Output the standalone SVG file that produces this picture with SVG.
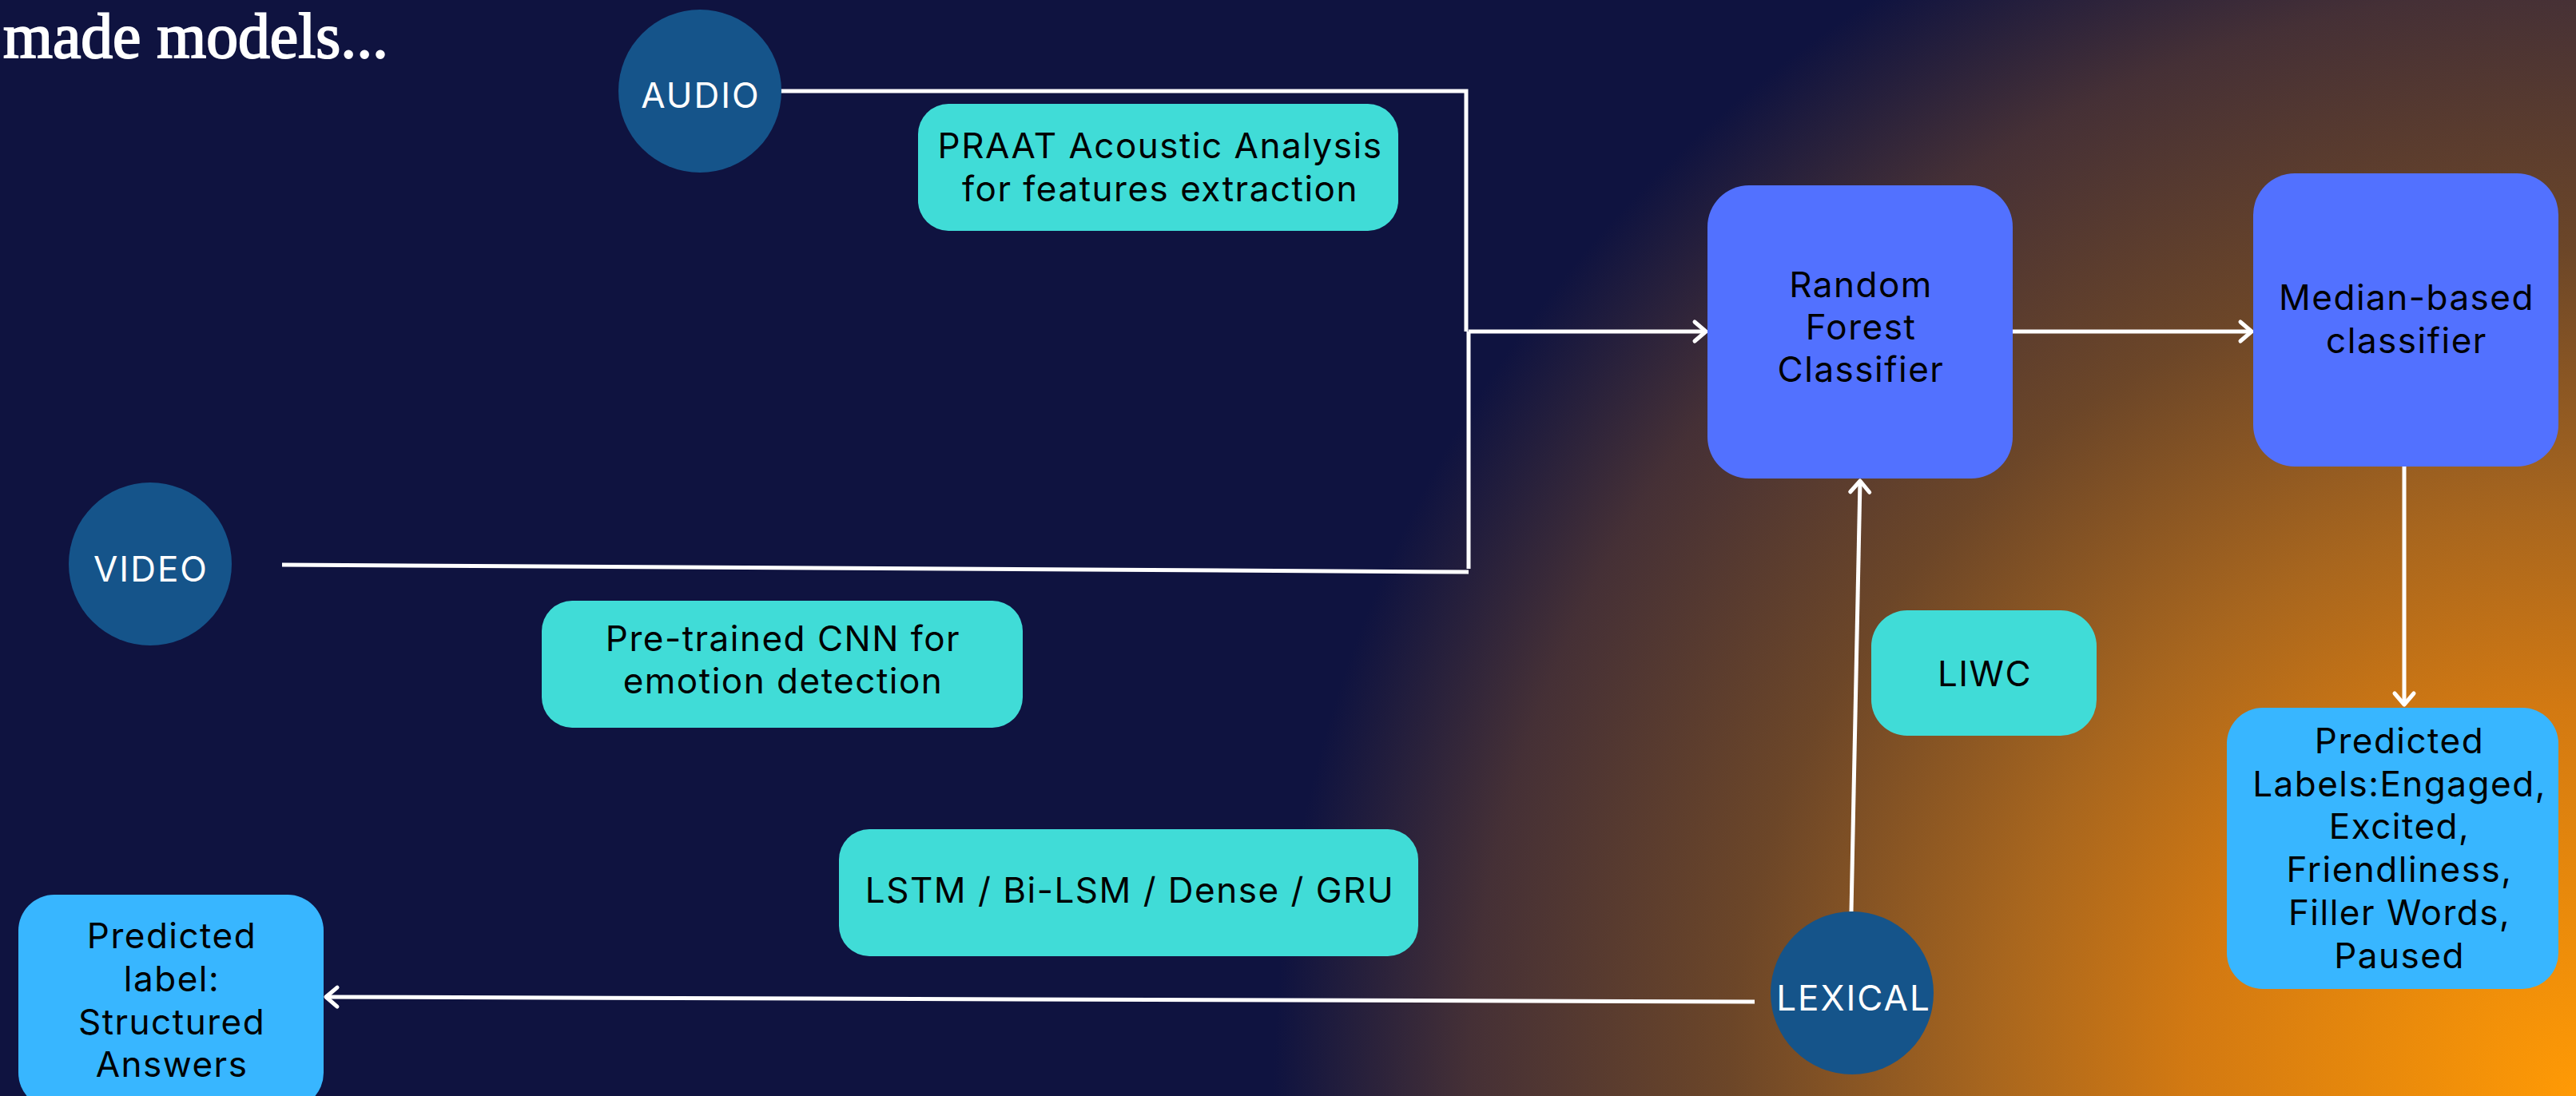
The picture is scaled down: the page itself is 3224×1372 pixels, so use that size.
<svg xmlns="http://www.w3.org/2000/svg" width="3224" height="1372" viewBox="0 0 3224 1372">
  <defs>
    <radialGradient id="bgGlow" gradientUnits="userSpaceOnUse" cx="3224" cy="1372" r="1630">
      <stop offset="0" stop-color="#FF9A05"/>
      <stop offset="0.3" stop-color="#D27912"/>
      <stop offset="0.45" stop-color="#A8661E"/>
      <stop offset="0.65" stop-color="#6C4628"/>
      <stop offset="0.85" stop-color="#453036"/>
      <stop offset="1" stop-color="#0F1340"/>
    </radialGradient>
    <marker id="arrow" markerUnits="userSpaceOnUse" markerWidth="40" markerHeight="40" viewBox="-20 -20 40 40" refX="0" refY="0" orient="auto">
      <path d="M -14 -12 L 0 0 L -14 12" fill="none" stroke="#FFFFFF" stroke-width="5" stroke-linecap="round" stroke-linejoin="round"/>
    </marker>
  </defs>
  <style>
    .circle { fill: #15548A; }
    .circle-text { font-family: Inter, "Liberation Sans", sans-serif; font-size: 44px; fill: #FFFFFF; text-anchor: middle; letter-spacing: 2px; }
    .step { fill: #40DCD7; }
    .model { fill: #5271FF; }
    .result { fill: #38B6FF; }
    .label { font-family: Inter, "Liberation Sans", sans-serif; font-size: 44px; fill: #000000; text-anchor: middle; letter-spacing: 1.5px; }
    .wire { fill: none; stroke: #FFFFFF; stroke-width: 5; }
  </style>

  <rect x="0" y="0" width="3224" height="1372" fill="#0F1340"/>
  <rect x="0" y="0" width="3224" height="1372" fill="url(#bgGlow)"/>

  <text x="4" y="72" textLength="482" lengthAdjust="spacingAndGlyphs" font-family="Liberation Serif, serif" font-size="80" fill="#FFFFFF" stroke="#FFFFFF" stroke-width="2">made models...</text>

  <g id="connectors">
    <path class="wire" d="M 977 114 L 1835 114 L 1835 415"/>
    <path class="wire" d="M 353 707 L 1838 716"/>
    <path class="wire" d="M 1838 415 L 1838 712"/>
    <path class="wire" d="M 1838 415 L 2135 415" marker-end="url(#arrow)"/>
    <path class="wire" d="M 2519 415 L 2818 415" marker-end="url(#arrow)"/>
    <path class="wire" d="M 3009 584 L 3009 882" stroke-width="4" marker-end="url(#arrow)"/>
    <path class="wire" d="M 2317 1141 L 2328 602" stroke-width="4" marker-end="url(#arrow)"/>
    <path class="wire" d="M 2196 1254 L 408 1248" marker-end="url(#arrow)"/>
  </g>

  <g id="audio">
    <circle class="circle" cx="876" cy="114" r="102"/>
    <text class="circle-text" x="877" y="135">AUDIO</text>
  </g>

  <g id="video">
    <circle class="circle" cx="188" cy="706" r="102"/>
    <text class="circle-text" x="189" y="728">VIDEO</text>
  </g>

  <g id="lexical">
    <circle class="circle" cx="2318" cy="1243" r="102"/>
    <text class="circle-text" x="2320" y="1265">LEXICAL</text>
  </g>

  <g id="praat">
    <rect class="step" x="1149" y="130" width="601" height="159" rx="38" ry="38"/>
    <text class="label" x="1452" y="198">PRAAT Acoustic Analysis</text>
    <text class="label" x="1452" y="252">for features extraction</text>
  </g>

  <g id="cnn">
    <rect class="step" x="678" y="752" width="602" height="159" rx="38" ry="38"/>
    <text class="label" x="980" y="815">Pre-trained CNN for</text>
    <text class="label" x="980" y="868">emotion detection</text>
  </g>

  <g id="lstm">
    <rect class="step" x="1050" y="1038" width="725" height="159" rx="38" ry="38"/>
    <text class="label" x="1414" y="1130">LSTM / Bi-LSM / Dense / GRU</text>
  </g>

  <g id="liwc">
    <rect class="step" x="2342" y="764" width="282" height="157" rx="45" ry="45"/>
    <text class="label" x="2484" y="859">LIWC</text>
  </g>

  <g id="random-forest">
    <rect class="model" x="2137" y="232" width="382" height="367" rx="52" ry="52"/>
    <text class="label" x="2329" y="372">Random</text>
    <text class="label" x="2329" y="425">Forest</text>
    <text class="label" x="2329" y="478">Classifier</text>
  </g>

  <g id="median">
    <rect class="model" x="2820" y="217" width="382" height="367" rx="52" ry="52"/>
    <text class="label" x="3012" y="388">Median-based</text>
    <text class="label" x="3012" y="442">classifier</text>
  </g>

  <g id="predicted-labels">
    <rect class="result" x="2787" y="886" width="415" height="352" rx="45" ry="45"/>
    <text class="label" x="3003" y="943">Predicted</text>
    <text class="label" x="3003" y="997">Labels:Engaged,</text>
    <text class="label" x="3003" y="1050">Excited,</text>
    <text class="label" x="3003" y="1104">Friendliness,</text>
    <text class="label" x="3003" y="1158">Filler Words,</text>
    <text class="label" x="3003" y="1212">Paused</text>
  </g>

  <g id="predicted-label">
    <rect class="result" x="23" y="1120" width="382" height="268" rx="45" ry="45"/>
    <text class="label" x="215" y="1187">Predicted</text>
    <text class="label" x="215" y="1241">label:</text>
    <text class="label" x="215" y="1295">Structured</text>
    <text class="label" x="215" y="1348">Answers</text>
  </g>
</svg>
